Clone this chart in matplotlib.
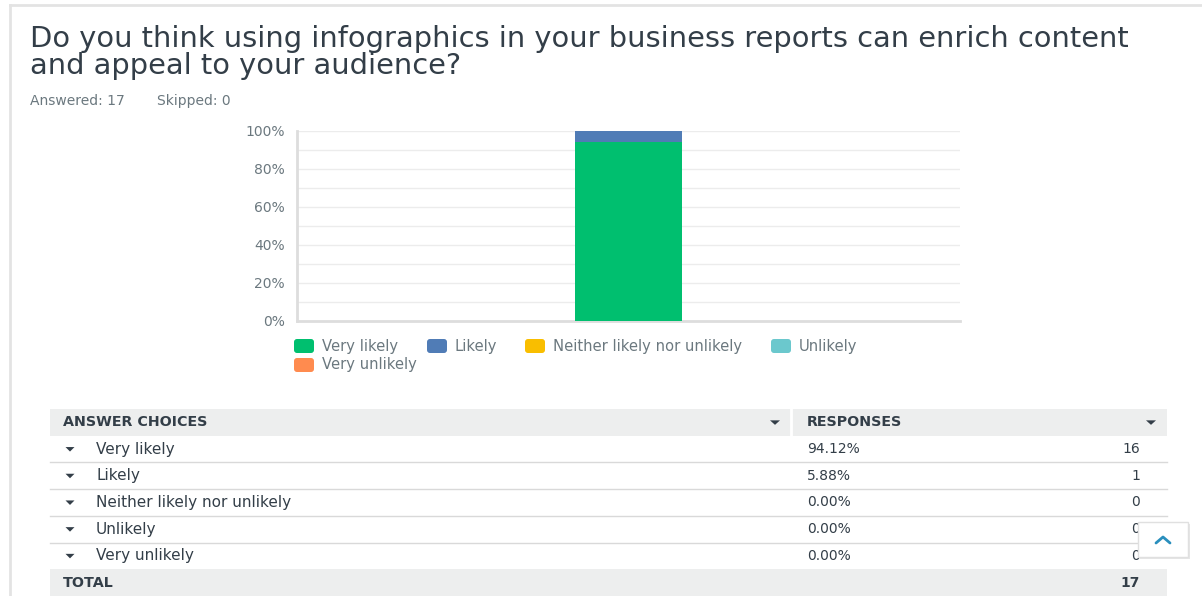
import matplotlib
matplotlib.use("Agg")
import matplotlib.pyplot as plt
from matplotlib.patches import FancyBboxPatch, Rectangle, Polygon

# survey results
question_lines = ["Do you think using infographics in your business reports can enrich content",
                  "and appeal to your audience?"]
answered = 17
skipped = 0
choices = ["Very likely", "Likely", "Neither likely nor unlikely", "Unlikely", "Very unlikely"]
percents = [94.12, 5.88, 0.00, 0.00, 0.00]
counts = [16, 1, 0, 0, 0]
colors = ["#00bf6f", "#507cb6", "#f9be00", "#6bc8cd", "#ff8b4f"]
y_ticks = [0, 20, 40, 60, 80, 100]

TEXT = "#333e48"
GREY = "#6b787f"

plt.rcParams["font.family"] = "DejaVu Sans"

W, H = 1202, 596
fig = plt.figure(figsize=(W / 100, H / 100), dpi=100)

# page layer in pixel coordinates
page = fig.add_axes([0, 0, 1, 1])
page.set_xlim(0, W)
page.set_ylim(H, 0)
page.axis("off")

# card border
page.plot([10, 10], [5, H], color="#e3e3e3", lw=2)
page.plot([10, W], [5, 5], color="#e3e3e3", lw=2)

for i, line in enumerate(question_lines):
    page.text(30, 47 + 27 * i, line, fontsize=20.8, color=TEXT, va="baseline")
page.text(30, 101, f"Answered: {answered}", fontsize=10, color=GREY, va="center")
page.text(157, 101, f"Skipped: {skipped}", fontsize=10, color=GREY, va="center")

# stacked bar chart
ax = fig.add_axes([297 / W, (H - 321) / H, 663 / W, 190 / H])
bottom = 0
for pct, col in zip(percents, colors):
    ax.bar([0], [pct], bottom=bottom, width=0.16, color=col, zorder=3)
    bottom += pct
ax.set_xlim(-0.5, 0.5)
ax.set_ylim(0, 100)
ax.set_yticks(y_ticks)
ax.set_yticklabels([f"{t}%" for t in y_ticks])
ax.set_yticks([10, 30, 50, 70, 90], minor=True)
ax.set_xticks([])
ax.tick_params(axis="y", which="both", length=0, pad=9, labelsize=10,
               labelcolor=GREY)
ax.grid(axis="y", which="both", color="#ececec", lw=1, zorder=0)
for side in ["top", "right"]:
    ax.spines[side].set_visible(False)
for side in ["left", "bottom"]:
    ax.spines[side].set_color("#dddddd")
    ax.spines[side].set_linewidth(2)

# legend
legend_pos = [(293, 346), (426, 346), (524, 346), (770, 346), (293, 365)]
for (lx, ly), name, col in zip(legend_pos, choices, colors):
    page.add_patch(FancyBboxPatch((lx + 1, ly - 7), 20, 14,
                                  boxstyle="round,pad=0,rounding_size=3",
                                  fc=col, ec="none"))
    page.text(lx + 29, ly, name, fontsize=10.6, color=GREY, va="center")

# response table
tx0, tx1, tdiv = 50, 1167, 791
row_h = 26.7
head_top = 409
page.add_patch(Rectangle((tx0, head_top), tx1 - tx0, row_h, fc="#edeeee", ec="none"))
page.plot([tdiv, tdiv], [head_top, head_top + row_h], color="white", lw=2)
hy = head_top + row_h / 2
page.text(63, hy, "ANSWER CHOICES", fontsize=10.3, fontweight="bold", color=TEXT, va="center")
page.text(807, hy, "RESPONSES", fontsize=10.3, fontweight="bold", color=TEXT, va="center")


def caret(x, y, size=5):
    page.add_patch(Polygon([(x - size, y - 2), (x + size, y - 2), (x, y + 2.5)],
                           closed=True, fc="#333e48", ec="none"))


caret(775, hy)
caret(1151, hy)

for i, (name, pct, n) in enumerate(zip(choices, percents, counts)):
    top = head_top + row_h * (i + 1)
    cy = top + row_h / 2
    caret(70, cy, 4.5)
    page.text(96, cy, name, fontsize=11, color=TEXT, va="center")
    page.text(807, cy, f"{pct:.2f}%", fontsize=10, color=TEXT, va="center")
    page.text(1140, cy, str(n), fontsize=10, color=TEXT, va="center", ha="right")
    if i < len(choices) - 1:
        page.plot([tx0, tx1], [top + row_h, top + row_h], color="#d9d9d9", lw=1)

tot_top = head_top + row_h * (len(choices) + 1)
page.add_patch(Rectangle((tx0, tot_top), tx1 - tx0, row_h, fc="#edeeee", ec="none"))
page.text(63, tot_top + row_h / 2, "TOTAL", fontsize=10.3, fontweight="bold", color=TEXT, va="center")
page.text(1140, tot_top + row_h / 2, str(sum(counts)), fontsize=10, fontweight="bold",
          color=TEXT, va="center", ha="right")

# back-to-top button
page.add_patch(Rectangle((1140, 524), 50, 35, fc="#e6e6e6", ec="none", zorder=4))
page.add_patch(Rectangle((1138, 522), 50, 35, fc="white", ec="#e0e0e0", lw=1, zorder=5))
page.plot([1156, 1163, 1170], [543, 537, 543], color="#2a8fbd", lw=2,
          solid_capstyle="round", zorder=6)

fig.savefig("out.png", dpi=100)
